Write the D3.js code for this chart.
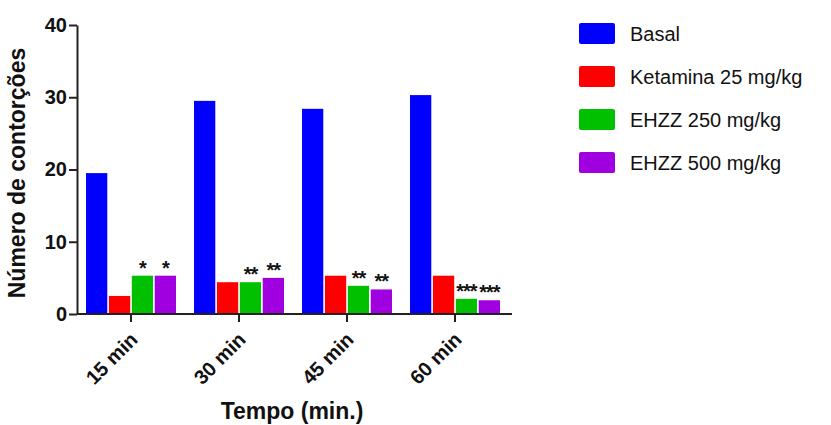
<!DOCTYPE html>
<html lang="en">
    <head>
        <meta charset="utf-8">
        <title>Número de contorções</title>
        <style>
            body { margin: 0; background: #fff; }
            text { font-family: "Liberation Sans", Arial, sans-serif; fill: #111; }
            .axis path, .axis line { stroke: #222; stroke-width: 2px; }
        </style>
    </head>
    <body>
        <script src="https://d3js.org/d3.v7.min.js"></script>
        <script type="text/javascript">

            // data
            var times = ["15 min", "30 min", "45 min", "60 min"];
            var groups = ["Basal", "Ketamina 25 mg/kg", "EHZZ 250 mg/kg", "EHZZ 500 mg/kg"];
            var colors = ["#0000ff", "#ff0000", "#00c000", "#a000e0"];
            var basal     = [19.5, 29.5, 28.4, 30.3];
            var ketamina  = [2.5, 4.4, 5.3, 5.3];
            var ehzz250   = [5.3, 4.4, 3.9, 2.1];
            var ehzz500   = [5.3, 5.0, 3.4, 1.9];
            var stars250  = ["*", "**", "**", "***"];
            var stars500  = ["*", "**", "**", "***"];
            var yTicks    = [0, 10, 20, 30, 40];

            var series = [basal, ketamina, ehzz250, ehzz500];
            var starsBy = [null, null, stars250, stars500];

            var width = 831, height = 425;

            var svg = d3.select("body")
                        .append("svg")
                        .attr("width", width)
                        .attr("height", height);

            var xScale = d3.scaleBand()
                            .domain(times)
                            .range([77, 509]);

            var xInner = d3.scaleBand()
                            .domain(groups)
                            .range([0, 90])
                            .paddingInner(0.07);

            var yScale = d3.scaleLinear()
                            .domain([0, 40])
                            .range([314, 25]);

            // bars
            var rows = [];
            times.forEach(function(t, i) {
                groups.forEach(function(g, j) {
                    rows.push({t: t, g: g, j: j, v: series[j][i], s: starsBy[j] ? starsBy[j][i] : null});
                });
            });

            var groupOffset = (xScale.bandwidth() - 90) / 2;

            svg.append("g").selectAll("rect")
                .data(rows)
                .join("rect")
                    .attr("x", d => xScale(d.t) + groupOffset + xInner(d.g))
                    .attr("y", d => yScale(d.v))
                    .attr("width", xInner.bandwidth())
                    .attr("height", d => yScale(0) - yScale(d.v))
                    .attr("fill", d => colors[d.j]);

            // significance stars
            svg.append("g").selectAll("text")
                .data(rows.filter(d => d.s))
                .join("text")
                    .attr("x", d => xScale(d.t) + groupOffset + xInner(d.g) + xInner.bandwidth() / 2)
                    .attr("y", d => yScale(d.v) - 1)
                    .attr("text-anchor", "middle")
                    .style("font-size", "20px")
                    .style("font-weight", "bold")
                    .style("letter-spacing", "-1px")
                    .text(d => d.s);

            // Y axis
            var yAxis = svg.append("g")
                .attr("class", "axis")
                .attr("transform", "translate(77,0)")
                .call(d3.axisLeft(yScale).tickValues(yTicks).tickSize(8).tickSizeOuter(0));
            yAxis.selectAll("text")
                .style("font-size", "20px")
                .style("font-weight", "bold")
                .attr("x", -10);

            // X axis
            var xAxis = svg.append("g")
                .attr("class", "axis")
                .attr("transform", "translate(0,314)")
                .call(d3.axisBottom(xScale).tickSize(8).tickSizeOuter(0));
            xAxis.select(".domain").attr("d", "M77,0H512");
            xAxis.selectAll("text")
                .style("font-size", "20px")
                .style("font-weight", "bold")
                .attr("text-anchor", "end")
                .attr("dy", "0.35em")
                .attr("x", 0)
                .attr("y", 0)
                .attr("transform", "translate(3,22) rotate(-45)");

            // Axis titles
            svg.append("text")
                .attr("x", 292)
                .attr("y", 419)
                .attr("text-anchor", "middle")
                .style("font-size", "23px")
                .style("font-weight", "bold")
                .text("Tempo (min.)");

            svg.append("text")
                .attr("transform", "translate(25,173) rotate(-90)")
                .attr("text-anchor", "middle")
                .style("font-size", "23px")
                .style("font-weight", "bold")
                .text("Número de contorções");

            // Legend
            var legend = svg.append("g")
                .selectAll("g")
                .data(groups)
                .join("g")
                    .attr("transform", (d, i) => `translate(579,${23 + i * 43})`);

            legend.append("rect")
                .attr("width", 36)
                .attr("height", 21)
                .attr("rx", 2)
                .attr("fill", (d, i) => colors[i]);

            legend.append("text")
                .attr("x", 51)
                .attr("y", 11)
                .attr("dy", "0.35em")
                .style("font-size", "20px")
                .text(d => d);

        </script>
    </body>
</html>
